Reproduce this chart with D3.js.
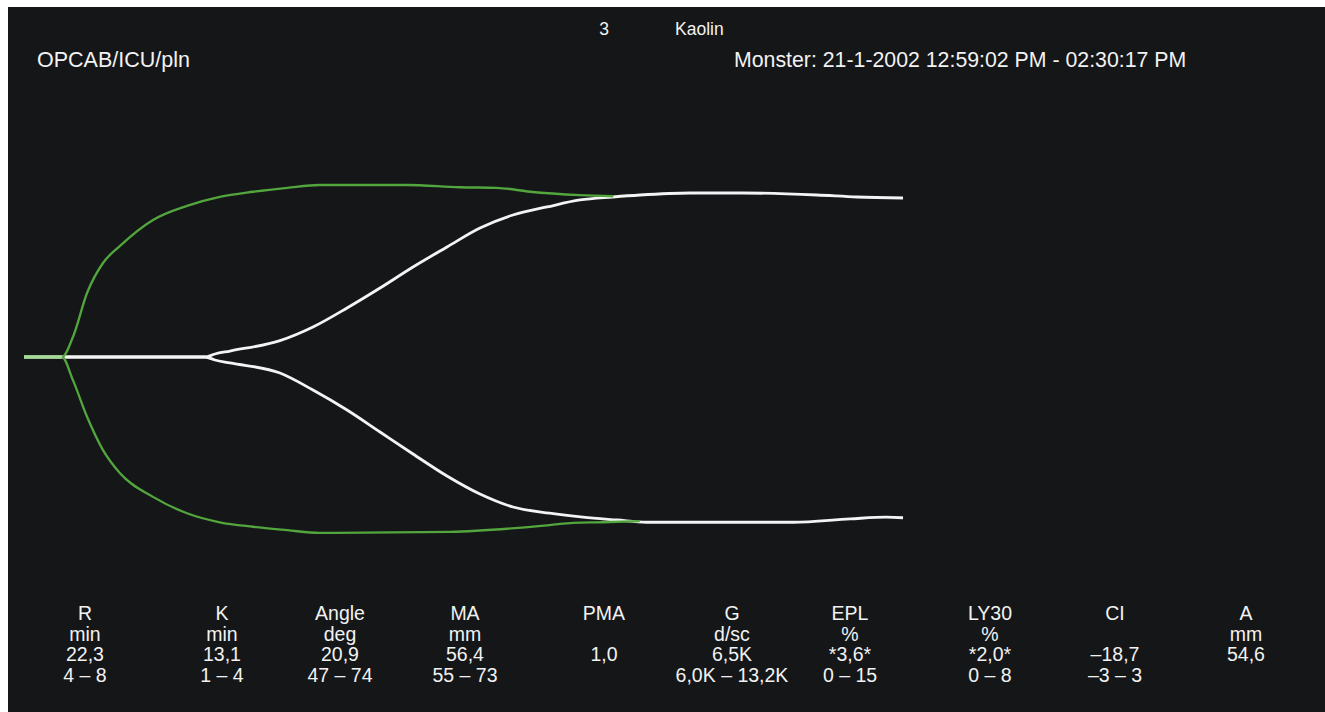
<!DOCTYPE html>
<html>
<head>
<meta charset="utf-8">
<script src="https://cdn.jsdelivr.net/npm/d3@7"></script>
<style>
  body { margin: 0; background: #fff; }
  svg { display: block; }
  text { font-family: "Liberation Sans", Arial, sans-serif; fill: #f2f2f2; }
</style>
</head>
<body>
<svg id="chart" width="1325" height="712"></svg>
<script>
// header texts
var channel = "3"
var activator = "Kaolin"
var sampleName = "OPCAB/ICU/pln"
var runInfo = "Monster: 21-1-2002 12:59:02 PM - 02:30:17 PM"

// normal reference trace (green), minutes / half amplitude mm
var refTimeUp = [0, 3.88, 5.0, 6.44, 8.07, 9.81, 13.18, 16.65, 20.0, 23.4, 26.9, 30.2, 31.6, 39.1, 44.5, 48.3, 51.7, 56.8, 60.2]
var refUp     = [0, 0, 3.55, 11.35, 16.67, 19.7, 24.3, 26.8, 28.4, 29.3, 30.0, 30.5, 30.5, 30.5, 30.1, 30.0, 29.3, 28.7, 28.5]
var refTimeLow = [0, 3.88, 5.0, 6.44, 8.07, 9.81, 13.18, 16.65, 20.0, 23.4, 26.9, 30.2, 43.5, 53.7, 56.1, 59.1, 62.9]
var refLow     = [0, 0, -4.1, -10.6, -16.5, -20.6, -24.8, -27.7, -29.3, -30.1, -30.7, -31.2, -31.0, -29.8, -29.4, -29.3, -29.1]

// patient trace (white)
var sampleTimeUp = [0, 18.49, 19.5, 21.04, 26.15, 29.52, 33.0, 36.37, 39.74, 43.21, 46.58, 49.95, 53.43, 56.8, 60.17, 62.93, 68.04, 73.45, 81.0, 85.1, 89.8]
var sampleUp     = [0, 0, 0.53, 1.06, 2.9, 5.32, 8.69, 12.23, 15.96, 19.5, 22.87, 25.18, 26.6, 27.84, 28.37, 28.72, 29.08, 29.08, 28.72, 28.37, 28.19]
var sampleTimeLow = [0, 18.49, 19.5, 21.04, 26.15, 29.52, 33.0, 36.37, 39.74, 43.21, 46.58, 49.95, 53.7, 57.1, 60.6, 63.6, 78.6, 84.4, 88.1, 89.8]
var sampleLow     = [0, 0, -0.53, -1.06, -2.84, -5.85, -9.4, -13.3, -17.2, -21.1, -24.3, -26.6, -27.7, -28.4, -28.9, -29.3, -29.3, -28.7, -28.4, -28.5]

// result table
var paramNames  = ["R", "K", "Angle", "MA", "PMA", "G", "EPL", "LY30", "CI", "A"]
var paramUnits  = ["min", "min", "deg", "mm", "", "d/sc", "%", "%", "", "mm"]
var paramValues = ["22,3", "13,1", "20,9", "56,4", "1,0", "6,5K", "*3,6*", "*2,0*", "\u201318,7", "54,6"]
var paramRanges = ["4 \u2013 8", "1 \u2013 4", "47 \u2013 74", "55 \u2013 73", "", "6,0K \u2013 13,2K", "0 \u2013 15", "0 \u2013 8", "\u20133 \u2013 3", ""]
var colCenters  = [85, 222, 340, 465, 604, 732, 850, 990, 1115, 1246]

var svg = d3.select("#chart")

svg.append("rect")
  .attr("x", 8).attr("y", 7)
  .attr("width", 1325 - 8).attr("height", 712 - 7)
  .attr("fill", "#151618")

var x = d3.scaleLinear().domain([0, 90]).range([24, 905])
var y = d3.scaleLinear().domain([-35, 35]).range([357 + 35 * 5.64, 357 - 35 * 5.64])

var line = d3.line()
  .x(function(d){ return x(d[0]) })
  .y(function(d){ return y(d[1]) })
  .curve(d3.curveMonotoneX)

function pairs(t, v){ return t.map(function(d, i){ return [d, v[i]] }) }

var traces = [
  {t: sampleTimeUp, v: sampleUp, color: "#f4f4f4", w: 2.8},
  {t: sampleTimeLow, v: sampleLow, color: "#f4f4f4", w: 2.8},
  {t: refTimeUp, v: refUp, color: "#52a63d", w: 2.3},
  {t: refTimeLow, v: refLow, color: "#52a63d", w: 2.3}
]

svg.selectAll("path.trace").data(traces).enter().append("path")
  .attr("class", "trace")
  .attr("d", function(d){ return line(pairs(d.t, d.v)) })
  .attr("fill", "none")
  .attr("stroke", function(d){ return d.color })
  .attr("stroke-width", function(d){ return d.w })
  .attr("stroke-linejoin", "round")

// flat common start, pale where both traces overlap
svg.append("path")
  .attr("d", line([[refTimeUp[0], refUp[0]], [refTimeUp[1], refUp[1]]]))
  .attr("stroke", "#a6d99a").attr("stroke-width", 2.8).attr("fill", "none")

// header
svg.append("text").attr("x", 604).attr("y", 35).attr("text-anchor", "middle")
  .attr("font-size", 17.5).text(channel)
svg.append("text").attr("x", 675).attr("y", 35)
  .attr("font-size", 17.5).text(activator)
svg.append("text").attr("x", 37).attr("y", 67)
  .attr("font-size", 21.5).text(sampleName)
svg.append("text").attr("x", 734).attr("y", 67)
  .attr("font-size", 21.3).text(runInfo)

// table rows
var rows = [paramNames, paramUnits, paramValues, paramRanges]
var rowY = [620, 640.5, 661, 681.5]

rows.forEach(function(row, r){
  svg.selectAll("text.row" + r).data(row).enter().append("text")
    .attr("class", "row" + r)
    .attr("x", function(d, i){ return colCenters[i] })
    .attr("y", rowY[r])
    .attr("text-anchor", "middle")
    .attr("font-size", 19.5)
    .text(function(d){ return d })
})
</script>
</body>
</html>
